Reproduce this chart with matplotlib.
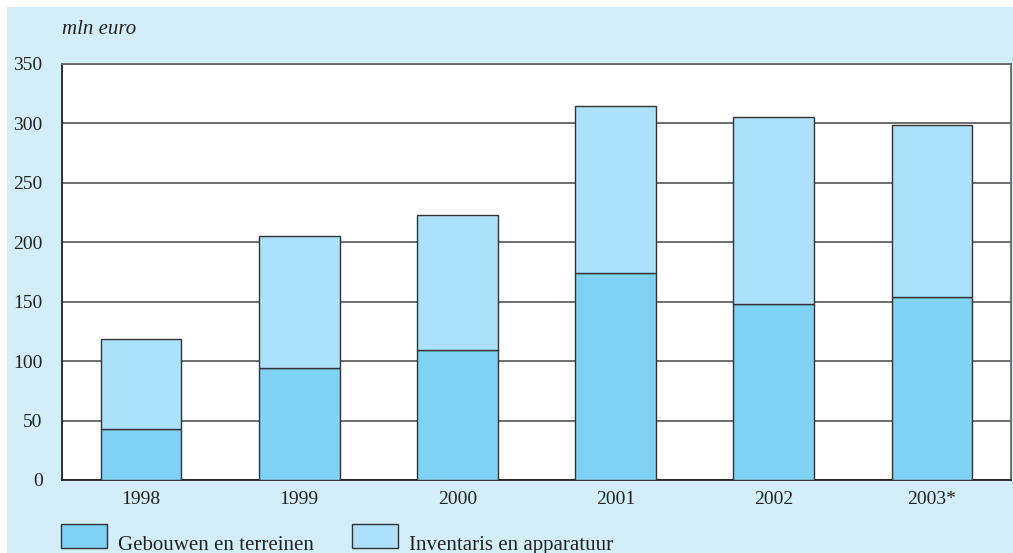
import matplotlib.pyplot as plt
from matplotlib.patches import Rectangle

years = ['1998', '1999', '2000', '2001', '2002', '2003*']
gebouwen = [43, 94, 109, 174, 148, 154]
inventaris = [76, 111, 114, 141, 157, 145]
series_names = ['Gebouwen en terreinen', 'Inventaris en apparatuur']
yticks = [0, 50, 100, 150, 200, 250, 300, 350]

panel_color = '#d3eef9'
dark_blue = '#80d2f4'
light_blue = '#abe1fa'

plt.rcParams['font.family'] = ['Liberation Serif', 'DejaVu Serif']

W, H = 1013, 553
fig = plt.figure(figsize=(W / 100, H / 100), dpi=100)
fig.patch.set_facecolor('white')
fig.add_artist(Rectangle((7 / W, 0), 1 - 7 / W, 1 - 7 / H, transform=fig.transFigure,
                         facecolor=panel_color, edgecolor='none', zorder=0))

ax = fig.add_axes([62 / W, 1 - 480 / H, (1011 - 62) / W, (480 - 64) / H])
ax.set_facecolor('white')

x = range(len(years))
b1 = ax.bar(x, gebouwen, width=0.51, color=dark_blue, edgecolor='#333333', linewidth=1.0, zorder=3)
b2 = ax.bar(x, inventaris, width=0.51, bottom=gebouwen, color=light_blue, edgecolor='#333333',
            linewidth=1.0, zorder=3)

ax.set_xlim(-0.5, 5.5)
ax.set_ylim(0, 350)
ax.set_yticks(yticks)
ax.set_xticks(list(x))
ax.set_xticklabels(years)
ax.tick_params(length=0, labelsize=14, colors='#222222', pad=8)
ax.tick_params(axis='y', pad=14)
ax.yaxis.grid(True, color='#555555', linewidth=1.2, zorder=1)
ax.set_axisbelow(True)
for side in ['left', 'bottom']:
    ax.spines[side].set_color('#222222')
    ax.spines[side].set_linewidth(1.3)
for side in ['top', 'right']:
    ax.spines[side].set_color('#666666')
    ax.spines[side].set_linewidth(1.3)

fig.text(62 / W, 1 - 30 / H, 'mln euro', style='italic', fontsize=15, color='#222222', va='center')

# legend drawn by hand: the text sits lower than the middle of the swatch
for left, name, color in zip([61, 352], series_names, [dark_blue, light_blue]):
    fig.add_artist(Rectangle((left / W, 1 - 548 / H), 46 / W, 24 / H, transform=fig.transFigure,
                             facecolor=color, edgecolor='#333333', linewidth=1.0))
    fig.text((left + 57) / W, 1 - 550 / H, name, fontsize=15, color='#222222', va='baseline')

fig.savefig('out.png', dpi=100, facecolor=fig.get_facecolor())
